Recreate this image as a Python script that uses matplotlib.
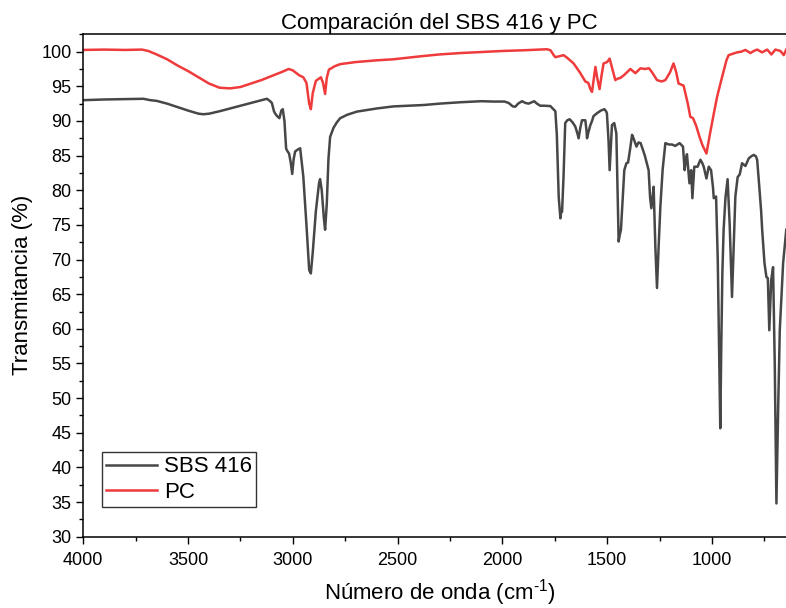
import matplotlib
matplotlib.use("Agg")
import matplotlib.pyplot as plt
from matplotlib.ticker import MultipleLocator

# Espectros FTIR (numero de onda en cm-1, transmitancia en %)
pc_wavenumber = [
    4000, 3900, 3800, 3720, 3690, 3650, 3600, 3550, 3500, 3450, 3400, 3350, 3300, 3250,
    3200, 3150, 3100, 3050, 3020, 3000, 2970, 2950, 2935, 2922, 2914, 2905, 2890, 2866,
    2856, 2846, 2838, 2828, 2800, 2774, 2700, 2600, 2520, 2400, 2300, 2200, 2100, 2000,
    1900, 1787, 1770, 1755, 1747, 1720, 1708, 1690, 1660, 1630, 1604, 1590, 1580, 1572,
    1564, 1556, 1546, 1536, 1527, 1517, 1500, 1488, 1475, 1461, 1450, 1437, 1420, 1389,
    1365, 1341, 1320, 1300, 1285, 1262, 1240, 1222, 1200, 1183, 1170, 1159, 1135, 1115,
    1103, 1090, 1075, 1060, 1045, 1026, 1010, 990, 975, 950, 930, 920, 900, 880, 860,
    840, 816, 800, 784, 760, 736, 716, 697, 673, 657, 645,
]
pc_transmittance = [
    100.25, 100.3, 100.25, 100.3, 100.1, 99.6, 98.9, 98.0, 97.2, 96.3, 95.4, 94.8, 94.7, 94.9,
    95.4, 95.9, 96.5, 97.1, 97.5, 97.3, 96.6, 96.3, 95.5, 92.5, 91.7, 94.0, 95.8, 96.3,
    95.5, 93.9, 96.2, 97.4, 97.9, 98.2, 98.5, 98.75, 98.9, 99.3, 99.6, 99.8, 99.95, 100.1,
    100.2, 100.35, 100.2, 99.5, 99.2, 99.4, 99.5, 99.1, 98.3, 97.0, 95.7, 95.5, 94.6, 94.2,
    96.0, 97.8, 96.0, 94.6, 96.5, 98.3, 98.5, 99.0, 97.5, 95.9, 96.1, 96.2, 96.6, 97.5,
    96.9, 97.6, 97.5, 97.6, 97.0, 95.9, 95.7, 95.9, 97.0, 98.3, 97.0, 95.4, 95.1, 92.5,
    90.6, 90.4, 89.3, 87.8, 86.5, 85.3, 88.0, 91.2, 93.5, 96.5, 98.8, 99.5, 99.7, 99.9, 100.0,
    100.25, 99.8, 100.1, 100.3, 99.9, 100.3, 99.6, 100.3, 100.1, 99.5, 100.3,
]

sbs_wavenumber = [
    4000, 3900, 3800, 3713, 3680, 3650, 3600, 3550, 3500, 3450, 3427, 3400, 3350, 3300,
    3250, 3200, 3150, 3124, 3110, 3100, 3090, 3085, 3075, 3064, 3055, 3048, 3040, 3032,
    3025, 3018, 3010, 3003, 2996, 2989, 2975, 2965, 2950, 2935, 2922, 2914, 2905, 2890,
    2875, 2870, 2862, 2852, 2846, 2838, 2830, 2822, 2806, 2790, 2774, 2740, 2694, 2600,
    2520, 2450, 2376, 2300, 2201, 2100, 2042, 1990, 1970, 1950, 1938, 1925, 1906, 1890,
    1875, 1860, 1848, 1835, 1819, 1800, 1771, 1760, 1747, 1740, 1731, 1723, 1719, 1715,
    1708, 1700, 1690, 1679, 1665, 1652, 1640, 1636, 1628, 1620, 1604, 1598, 1596, 1590,
    1580, 1572, 1565, 1549, 1530, 1513, 1505, 1501, 1493, 1488, 1483, 1477, 1466, 1456,
    1450, 1445, 1440, 1434, 1425, 1418, 1408, 1400, 1390, 1381, 1374, 1360, 1350, 1340,
    1330, 1320, 1302, 1295, 1289, 1283, 1278, 1270, 1262, 1254, 1246, 1235, 1222, 1205,
    1190, 1175, 1154, 1138, 1130, 1124, 1119, 1107, 1099, 1093, 1084, 1068, 1055, 1047,
    1039, 1026, 1015, 1004, 995, 991, 980, 972, 960, 955, 950, 944, 935, 925, 915, 904,
    896, 888, 877, 867, 856, 840, 824, 812, 800, 790, 784, 775, 765, 760, 749, 740, 733,
    726, 717, 708, 700, 692, 684, 676, 660, 645,
]
sbs_transmittance = [
    93.0, 93.1, 93.15, 93.2, 93.0, 92.9, 92.5, 92.0, 91.5, 91.05, 90.97, 91.05, 91.4, 91.8,
    92.2, 92.6, 93.0, 93.2, 92.9, 92.6, 91.4, 91.1, 90.7, 90.4, 91.5, 91.7, 90.0, 86.0,
    85.6, 85.3, 84.0, 82.35, 84.5, 85.6, 85.9, 86.06, 82.0, 75.0, 68.5, 68.0, 71.0, 77.0,
    81.0, 81.6, 80.0, 76.0, 74.3, 78.0, 84.5, 87.7, 89.0, 89.8, 90.4, 90.9, 91.35, 91.8,
    92.1, 92.2, 92.3, 92.5, 92.7, 92.85, 92.8, 92.8, 92.6, 92.1, 92.06, 92.5, 92.85, 92.6,
    92.5, 92.7, 92.85, 92.5, 92.2, 92.2, 92.15, 91.8, 91.4, 88.0, 79.0, 75.95, 77.0, 76.9,
    82.0, 89.7, 90.1, 90.25, 89.8, 89.2, 88.0, 87.5, 89.0, 90.1, 90.1, 88.5, 87.5, 88.3,
    89.4, 90.0, 90.7, 91.1, 91.5, 91.7, 91.4, 91.1, 87.0, 82.9, 86.0, 89.4, 89.7, 88.2,
    80.0, 72.6, 73.5, 74.3, 79.0, 82.9, 83.9, 84.0, 86.0, 88.0, 87.5, 86.3, 86.9, 86.8,
    85.9, 85.0, 82.9, 79.0, 77.4, 79.0, 80.5, 72.0, 65.9, 72.0, 77.6, 83.0, 86.8, 86.6,
    86.6, 86.4, 86.8, 86.3, 82.9, 84.5, 85.2, 81.0, 82.9, 78.85, 83.4, 83.4, 84.4, 84.0,
    83.4, 81.7, 83.4, 82.9, 80.5, 78.85, 79.1, 70.0, 45.65, 58.0, 68.0, 74.3, 79.0, 81.6, 75.0, 64.6,
    72.0, 79.1, 81.9, 82.3, 83.9, 83.5, 84.6, 84.9, 85.1, 84.9, 84.4, 81.0, 77.0, 74.3, 69.5, 67.5, 67.3,
    59.8, 67.0, 68.9, 55.0, 34.8, 48.0, 59.8, 69.5, 74.3,
]

SBS_COLOR = "#474747"
PC_COLOR = "#ef3b3b"


def main() -> None:
    plt.rcParams["font.family"] = ["Liberation Sans", "DejaVu Sans"]
    plt.rcParams["mathtext.fontset"] = "custom"
    plt.rcParams["mathtext.rm"] = "Liberation Sans"

    fig = plt.figure(figsize=(7.86, 6.08), dpi=100)
    # el eje se sale por la derecha de la imagen, como en la captura original
    ax = fig.add_axes([83.3 / 786, 71.3 / 608, 712.4 / 786, 502.7 / 608])

    ax.plot(sbs_wavenumber, sbs_transmittance, color=SBS_COLOR, lw=1.8, label="SBS 416")
    ax.plot(pc_wavenumber, pc_transmittance, color=PC_COLOR, lw=1.8, label="PC")

    ax.set_xlim(4000, 600)
    ax.set_ylim(30, 102.55)
    ax.xaxis.set_major_locator(MultipleLocator(500))
    ax.xaxis.set_minor_locator(MultipleLocator(250))
    ax.yaxis.set_major_locator(MultipleLocator(5))
    ax.yaxis.set_minor_locator(MultipleLocator(2.5))
    ax.tick_params(which="major", direction="out", length=5, width=1, labelsize=13)
    ax.tick_params(which="minor", direction="out", length=3, width=1)
    ax.tick_params(axis="x", pad=6)
    for spine in ax.spines.values():
        spine.set_linewidth(1.1)

    ax.set_title("Comparación del SBS 416 y PC", fontsize=16, pad=3)
    ax.set_xlabel(r"Número de onda (cm$^{\text{-1}}$)", fontsize=16, labelpad=6)
    ax.set_ylabel("Transmitancia (%)", fontsize=16, labelpad=6)

    leg = ax.legend(
        loc="upper left",
        bbox_to_anchor=(0.0258, 0.1685),
        borderaxespad=0,
        fontsize=16,
        frameon=True,
        fancybox=False,
        edgecolor="black",
        handlelength=2.3,
        handletextpad=0.3,
        borderpad=0.2,
        labelspacing=0.2,
    )
    leg.get_frame().set_linewidth(1.0)

    fig.savefig("out.png", dpi=100)
    plt.close(fig)


if __name__ == "__main__":
    main()
